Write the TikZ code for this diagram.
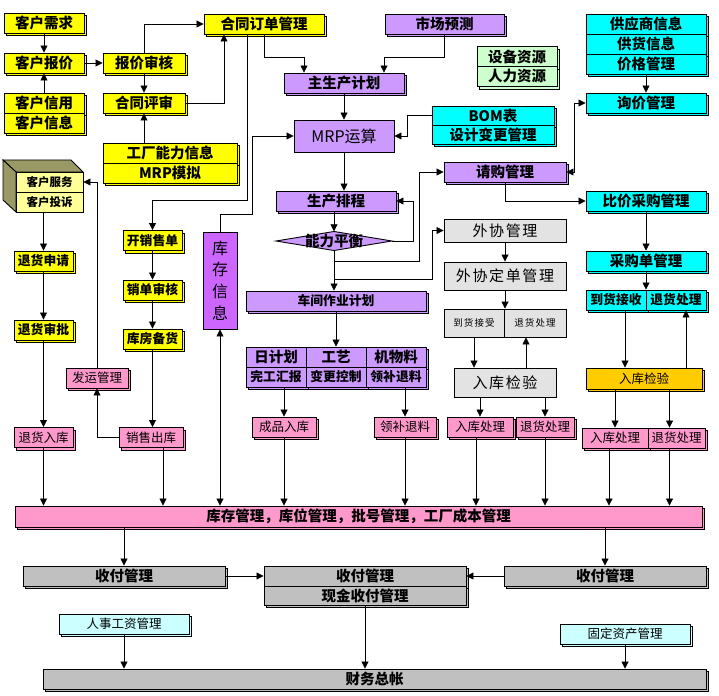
\documentclass[tikz,border=0pt]{standalone}
\usepackage{fontspec}
\setmainfont{Noto Sans CJK SC}
\newfontfamily\wxfont[LetterSpace=11]{Noto Sans CJK SC}
\usetikzlibrary{arrows.meta,shadows}
\definecolor{cyellow}{HTML}{FFFF00}
\definecolor{clav}{HTML}{CC99FF}
\definecolor{cviolet}{HTML}{CC66FF}
\definecolor{ccyan}{HTML}{00FFFF}
\definecolor{cmint}{HTML}{CCFFCC}
\definecolor{clgray}{HTML}{E3E3E3}
\definecolor{cpink}{HTML}{FF99CC}
\definecolor{corange}{HTML}{FFCC00}
\definecolor{cgray}{HTML}{C0C0C0}
\definecolor{cice}{HTML}{CCFFFF}
\definecolor{cpale}{HTML}{FFFF99}
\definecolor{colive}{HTML}{999966}
\begin{document}
\begin{tikzpicture}[x=1pt,y=-1pt,
  box/.style={draw,line width=0.9pt,inner sep=0pt,font=\bfseries\fontsize{14.5}{16}\selectfont},
  sz/.style 2 args={minimum width=#1pt,minimum height=#2pt},
  shd/.style={copy shadow={shadow xshift=2.5pt,shadow yshift=-2.5pt}},
  ybox/.style={box,shd,fill=cyellow},
  pbox/.style={box,shd,fill=clav},
  cbox/.style={box,shd,fill=ccyan},
  gbox/.style={box,shd,fill=cgray},
  kbox/.style={box,shd,fill=cpink,font=\fontsize{12.5}{14}\selectfont},
  wbox/.style={box,fill=clgray,font=\wxfont\fontsize{15}{17}\selectfont},
  smallb/.style={font=\bfseries\fontsize{12.8}{14}\selectfont},
  arr/.style={-{Triangle[length=7pt,width=7pt]},line width=0.8pt},
  darr/.style={{Triangle[length=7pt,width=7pt]}-{Triangle[length=7pt,width=7pt]},line width=0.8pt}]
\fill[white] (0,0) rectangle (719,695);
\useasboundingbox (0,0) rectangle (719,695);

% customer and contract
\node[ybox,sz={80}{20}] (xuqiu) at (44,23) {客户需求};
\node[ybox,sz={80}{20}] (baojia) at (44,63) {客户报价};
\node[ybox,sz={80}{20}] (xinyong) at (44,103) {客户信用};
\node[ybox,sz={80}{20}] (xinxi) at (44,123) {客户信息};
\node[ybox,sz={82}{20}] (shenhe) at (144,63) {报价审核};
\node[ybox,sz={82}{20}] (pingshen) at (144,103) {合同评审};
\node[ybox,sz={134}{20}] (nengli) at (170,153) {工厂能力信息};
\node[ybox,sz={134}{20}] (moni) at (170,173) {MRP模拟};
\node[ybox,sz={120}{20}] (dingdan) at (264,24) {合同订单管理};

% planning
\node[pbox,sz={119}{20}] (yuce) at (444.5,24) {市场预测};
\node[pbox,sz={120}{20}] (zhujihua) at (344,83) {主生产计划};
\node[box,fill=clav,sz={100}{32},font=\fontsize{16}{18}\selectfont] (mrp) at (344,136) {MRP运算};
\node[box,shd,fill=cmint,sz={80}{20}] (shebei) at (517,56.5) {设备资源};
\node[box,shd,fill=cmint,sz={80}{20}] (renli) at (517,76.5) {人力资源};
\node[cbox,sz={122}{19}] (bom) at (493,115.5) {BOM表};
\node[cbox,sz={122}{19}] (biangeng) at (493,134.5) {设计变更管理};
\node[pbox,sz={120}{20}] (paicheng) at (336,201) {生产排程};
\coordinate (ph) at (334,241);
\draw[line width=0.9pt,fill=clav] (ph) ++(-58,0) -- ++(58,-9.5) -- ++(58,9.5) -- ++(-58,9.5) -- cycle;
\node[inner sep=0pt,sz={116}{19},font=\bfseries\fontsize{14.5}{16}\selectfont] (pingheng) at (ph) {能力平衡};
\node[pbox,sz={180}{20},smallb] (chejian) at (336,301) {车间作业计划};
\node[pbox,sz={60}{20}] (rijihua) at (276,357) {日计划};
\node[pbox,sz={60}{20}] (gongyi) at (336,357) {工艺};
\node[pbox,sz={60}{20}] (wuliao) at (396,357) {机物料};
\node[pbox,sz={60}{20},smallb] (wangong) at (276,377) {完工汇报};
\node[pbox,sz={60}{20},smallb] (kongzhi) at (336,377) {变更控制};
\node[pbox,sz={60}{20},smallb] (lingliao) at (396,377) {领补退料};
\node[kbox,sz={64}{20}] (chengpin) at (284,427) {成品入库};
\node[kbox,sz={62}{20}] (buliao) at (405,427) {领补退料};
\node[box,fill=cviolet,sz={34}{97},font=\fontsize{16}{21.7}\selectfont,align=center] (kucun) at (220,280.5) {库\\存\\信\\息};

% purchasing
\node[cbox,sz={120}{20}] (gongying) at (646,24) {供应商信息};
\node[cbox,sz={120}{20}] (gonghuo) at (646,44) {供货信息};
\node[cbox,sz={120}{20}] (jiage) at (646,64) {价格管理};
\node[cbox,sz={120}{20}] (xunjia) at (646,103) {询价管理};
\node[pbox,sz={122}{20}] (qinggou) at (505,172) {请购管理};
\node[cbox,sz={120}{20}] (bijia) at (646,201) {比价采购管理};
\node[cbox,sz={120}{20}] (caigou) at (646,261) {采购单管理};
\node[cbox,sz={60}{20},smallb] (jieshou) at (616,300) {到货接收};
\node[cbox,sz={60}{20},smallb] (cgtui) at (676,300) {退货处理};
\node[box,shd,fill=corange,sz={116}{21},font=\fontsize{12.5}{14}\selectfont] (cgjian) at (644,378.5) {入库检验};
\node[kbox,sz={66}{20}] (cgru) at (615,438) {入库处理};
\node[kbox,sz={57}{20}] (cgtuichu) at (676.5,438) {退货处理};

% outsourcing
\node[wbox,sz={122}{23}] (waixie) at (505,230.5) {外协管理};
\node[wbox,sz={122}{28}] (wxdan) at (505,276) {外协定单管理};
\node[wbox,sz={60}{28},font=\wxfont\fontsize{9.5}{11}\selectfont] (wxjie) at (474,323) {到货接受};
\node[wbox,sz={62}{28},font=\wxfont\fontsize{9.5}{11}\selectfont] (wxtui) at (535,323) {退货处理};
\node[wbox,sz={102}{29}] (wxjian) at (505,382.5) {入库检验};
\node[kbox,sz={66}{20}] (wxru) at (480,427) {入库处理};
\node[kbox,sz={58}{20}] (wxtuichu) at (545,427) {退货处理};

% sales and service
\draw[line width=0.9pt,fill=colive] (3,160) -- (71,160) -- (83,172) -- (16,172) -- cycle;
\draw[line width=0.9pt,fill=colive] (3,160) -- (16,172) -- (16,212) -- (3,200) -- cycle;
\node[box,fill=cpale,sz={67}{20},font=\bfseries\fontsize{11.5}{13}\selectfont] (kefu) at (49.5,182) {客户服务};
\node[box,fill=cpale,sz={67}{20},font=\bfseries\fontsize{11.5}{13}\selectfont] (tousu) at (49.5,202) {客户投诉};
\node[ybox,sz={59}{20},smallb] (shenqing) at (43.5,261) {退货申请};
\node[ybox,sz={59}{20},smallb] (shenpi) at (43.5,330) {退货审批};
\node[kbox,sz={59}{20}] (tuiru) at (43.5,437.5) {退货入库};
\node[kbox,sz={62}{20}] (fayun) at (97,378) {发运管理};
\node[kbox,sz={64}{20}] (chuku) at (151,437.5) {销售出库};
\node[ybox,sz={59}{20},smallb] (kaidan) at (152.5,240.5) {开销售单};
\node[ybox,sz={59}{20},smallb] (xiaodan) at (152.5,290) {销单审核};
\node[ybox,sz={59}{20},smallb] (beihuo) at (152.5,339) {库房备货};

% finance
\node[kbox,sz={687}{21},font=\bfseries\fontsize{14.5}{16}\selectfont] (kcgl) at (358.5,516.5) {库存管理，库位管理，批号管理，工厂成本管理};
\node[gbox,sz={202}{20}] (shoufu1) at (124,576) {收付管理};
\node[gbox,sz={202}{20}] (shoufu2) at (365,576) {收付管理};
\node[gbox,sz={202}{19}] (xianjin) at (365,595.5) {现金收付管理};
\node[gbox,sz={202}{20}] (shoufu3) at (605,576) {收付管理};
\node[box,shd,fill=cice,sz={130}{20},font=\fontsize{12.5}{14}\selectfont] (renshi) at (124,624) {人事工资管理};
\node[box,shd,fill=cice,sz={130}{20},font=\fontsize{12.5}{14}\selectfont] (guding) at (625,634) {固定资产管理};
\node[gbox,sz={663}{20}] (zongzhang) at (374.5,679) {财务总帐};

% connectors
\draw[arr] (xuqiu) -- (baojia);
\draw[arr] (xinyong) -- (baojia);
\draw[arr] (baojia) -- (shenhe);
\draw[arr] (shenhe.north) |- (dingdan.west);
\draw[arr] (shenhe) -- (pingshen);
\draw[arr] (pingshen.east) -| ([xshift=-40pt]dingdan.south);
\draw[arr] (nengli.north -| pingshen.south) -- (pingshen.south);
\draw[arr] ([xshift=-17pt]dingdan.south) -- ++(0,166) -| (kaidan.north);
\draw[arr] (dingdan.south) -- ++(0,23) -| ([xshift=-40pt]zhujihua.north);
\draw[arr] (yuce.south) -- ++(0,23) -| ([xshift=40pt]zhujihua.north);
\draw[arr] (zhujihua) -- (mrp);
\draw[arr] (bom.west) -- ++(-24,0) |- (mrp.east);
\draw[arr] (kucun.north) -- ++(0,-17) -- ++(32,0) |- (mrp.west);
\draw[arr] (mrp.south) -- (mrp.south |- paicheng.north);
\draw[arr] (pingheng.north |- paicheng.south) -- (pingheng.north);
\draw[arr] (pingheng.east) -- ++(21,0) |- (paicheng.east);
\draw[arr] (pingheng.south) -- (pingheng.south |- chejian.north);
\draw[arr] ([yshift=-10.5pt]pingheng.south) -- ++(85,0) |- (qinggou.west);
\draw[arr] ([yshift=-28.5pt]pingheng.south) -- ++(98,0) |- (waixie.west);
\draw[arr] (chejian) -- (gongyi);
\draw[arr] (chengpin.north |- wangong.south) -- (chengpin.north);
\draw[arr] (buliao.north |- lingliao.south) -- (buliao.north);
\draw[darr] (qinggou.east) -- ++(8,0) |- (xunjia.west);
\draw[arr] (jiage) -- (xunjia);
\draw[arr] (qinggou.south) |- (bijia.west);
\draw[arr] (bijia) -- (caigou);
\draw[arr] (caigou.south) -- (caigou.south |- jieshou.north);
\draw[arr] ([xshift=9pt]jieshou.south) -- ([xshift=9pt]jieshou.south |- cgjian.north);
\draw[arr] ([xshift=10pt]cgtui.south |- cgjian.north) -- ([xshift=10pt]cgtui.south);
\draw[arr] (cgru.north |- cgjian.south) -- (cgru.north);
\draw[arr] ([xshift=-7pt]cgtuichu.north |- cgjian.south) -- ([xshift=-7pt]cgtuichu.north);
\draw[arr] (waixie) -- (wxdan);
\draw[arr] (wxdan.south) -- (wxdan.south |- wxjie.north);
\draw[arr] (wxjie.south) -- (wxjie.south |- wxjian.north);
\draw[arr] ([xshift=-9pt]wxtui.south |- wxjian.north) -- ([xshift=-9pt]wxtui.south);
\draw[arr] (wxru.north |- wxjian.south) -- (wxru.north);
\draw[arr] (wxtuichu.north |- wxjian.south) -- (wxtuichu.north);
\draw[arr] (shenqing.north |- tousu.south) -- (shenqing.north);
\draw[arr] (shenqing) -- (shenpi);
\draw[arr] (shenpi) -- (tuiru);
\draw[arr] (fayun.north) |- (kefu.east);
\draw[arr] (chuku.west) -| (fayun.south);
\draw[arr] (kaidan) -- (xiaodan);
\draw[arr] (xiaodan) -- (beihuo);
\draw[arr] (beihuo.south) -- (beihuo.south |- chuku.north);
\draw[darr] (kucun.south) -- (kucun.south |- kcgl.north);
\draw[arr] (tuiru.south) -- (tuiru.south |- kcgl.north);
\draw[arr] ([xshift=12pt]chuku.south) -- ([xshift=12pt]chuku.south |- kcgl.north);
\draw[arr] (chengpin.south) -- (chengpin.south |- kcgl.north);
\draw[arr] (buliao.south) -- (buliao.south |- kcgl.north);
\draw[arr] ([xshift=-4pt]wxru.south) -- ([xshift=-4pt]wxru.south |- kcgl.north);
\draw[arr] (wxtuichu.south) -- (wxtuichu.south |- kcgl.north);
\draw[arr] ([xshift=-6pt]cgru.south) -- ([xshift=-6pt]cgru.south |- kcgl.north);
\draw[arr] ([xshift=-7pt]cgtuichu.south) -- ([xshift=-7pt]cgtuichu.south |- kcgl.north);
\draw[arr] (shoufu1.north |- kcgl.south) -- (shoufu1.north);
\draw[arr] (shoufu3.north |- kcgl.south) -- (shoufu3.north);
\draw[arr] (shoufu1) -- (shoufu2);
\draw[arr] (shoufu3) -- (shoufu2);
\draw[arr] (xianjin.south) -- (xianjin.south |- zongzhang.north);
\draw[arr] (renshi.south) -- (renshi.south |- zongzhang.north);
\draw[arr] (guding.south) -- (guding.south |- zongzhang.north);
\end{tikzpicture}
\end{document}
